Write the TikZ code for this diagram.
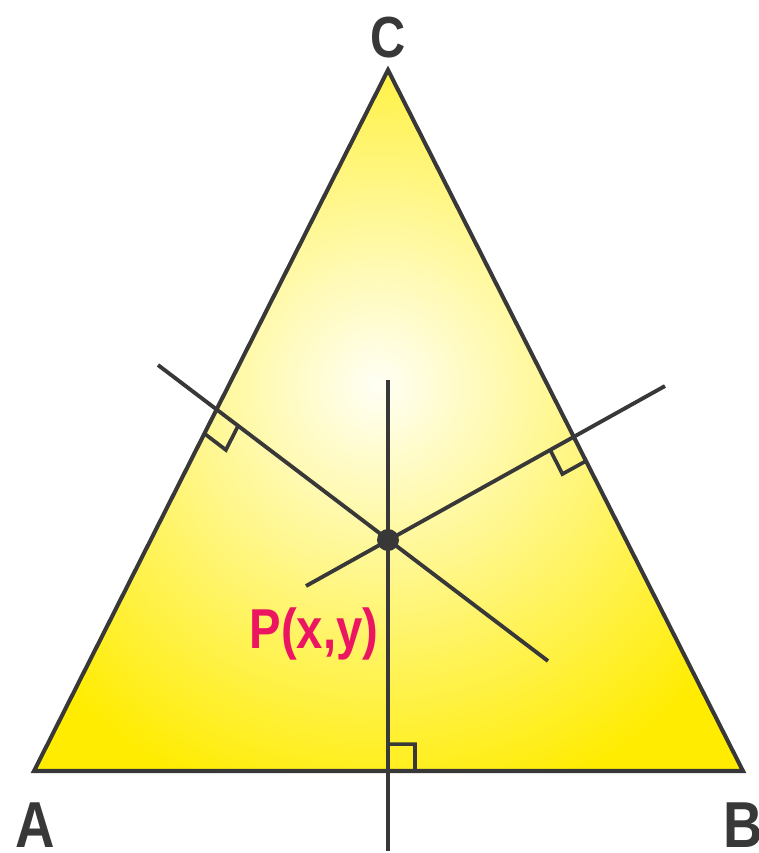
\documentclass[tikz,border=0pt]{standalone}
\usepackage{fontspec}
\newfontfamily\lblfont{Liberation Sans}[FakeStretch=0.84]
\usetikzlibrary{calc}
\definecolor{TriYellow}{HTML}{FFEC00}
\definecolor{LineGray}{HTML}{383838}
\definecolor{PointPink}{HTML}{EC1561}

\tikzset{
    side/.style={LineGray, line width=2.3pt},
    bisector/.style={LineGray, line width=2.2pt},
    rightmark/.style={LineGray, line width=2.1pt},
    vlabel/.style={LineGray, font=\lblfont\bfseries\fontsize{37}{40}\selectfont, anchor=base, inner sep=0pt}
}

\begin{document}
\begin{tikzpicture}[x=0.02cm, y=-0.02cm]
                \useasboundingbox (0,0) rectangle (759,853);
                % vertices and point
                \coordinate (A) at (34,771);
                \coordinate (B) at (743,771);
                \coordinate (C) at (388,70);
                \coordinate (P) at (388,540);
                % ends of the three lines
                \coordinate (vTop) at (388,380);
                \coordinate (vBot) at (388,851);
                \coordinate (aTop) at (158,365);
                \coordinate (aBot) at (548,661);
                \coordinate (bTop) at (665,386);
                \coordinate (bBot) at (306,586);
                % feet on the sides
                \coordinate (fAB) at (intersection of A--B and vTop--vBot);
                \coordinate (fAC) at (intersection of A--C and aTop--aBot);
                \coordinate (fBC) at (intersection of B--C and bTop--bBot);

                \begin{scope}
                    \clip (A) -- (B) -- (C) -- cycle;
                    \fill[TriYellow] (A) -- (B) -- (C) -- cycle;
                    \shade[inner color=yellow!4, outer color=TriYellow] (378,385) circle (440);
                \end{scope}
                \draw[side, line join=miter] (A) -- (B) -- (C) -- cycle;

                \foreach \f/\s in {fAB/B, fAC/A, fBC/B} {
                    \coordinate (m1) at ($(\f)!0.54cm!(\s)$);
                    \coordinate (m2) at ($(\f)!0.54cm!(P)$);
                    \draw[rightmark] (m1) -- ($(m1)+(m2)-(\f)$) -- (m2);
                }

                \draw[bisector] (vTop) -- (vBot);
                \draw[bisector] (aTop) -- (aBot);
                \draw[bisector] (bTop) -- (bBot);
                \fill[LineGray] (P) circle (11);

                \node[vlabel, font=\lblfont\bfseries\fontsize{33}{36}\selectfont] (labC) at (388,57) {C};
                \node[vlabel] (labA) at (35,847) {A};
                \node[vlabel] (labB) at (743,847) {B};
                \node[vlabel, PointPink, font=\lblfont\bfseries\fontsize{32}{36}\selectfont] (labP) at (314,648) {P(x,y)};
            \end{tikzpicture}
\end{document}
